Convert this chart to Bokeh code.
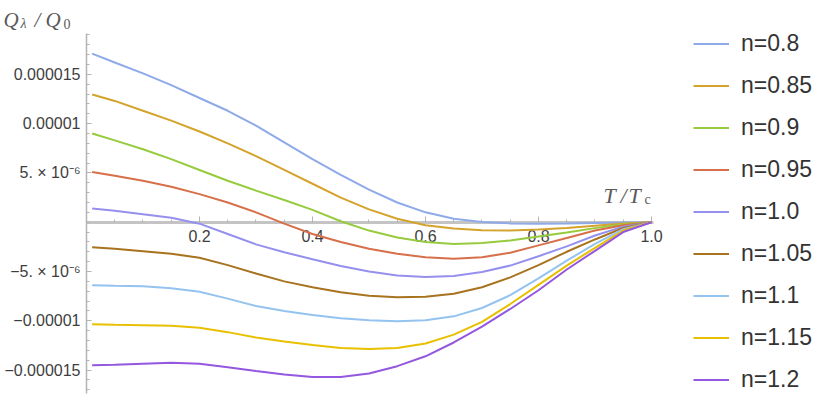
from bokeh.plotting import figure
from bokeh.models import Range1d, LinearAxis, FixedTicker, Legend, LegendItem, Label
from bokeh.embed import file_html
from bokeh.resources import INLINE

# T / T_c sample points
T = [0.01, 0.05, 0.10, 0.15, 0.20, 0.25, 0.30, 0.35, 0.40, 0.45, 0.50,
     0.55, 0.60, 0.65, 0.70, 0.75, 0.80, 0.85, 0.90, 0.95, 1.00]

# Q_lambda / Q_0 in units of 1e-6
q_n080 = [17.1, 16.2, 15.1, 13.9, 12.6, 11.3, 9.8, 8.1, 6.4, 4.8, 3.3,
          2.0, 1.0, 0.35, 0.02, -0.12, -0.15, -0.12, -0.07, -0.02, 0.0]
q_n085 = [12.95, 12.3, 11.3, 10.3, 9.2, 8.0, 6.7, 5.3, 3.9, 2.5, 1.3,
          0.35, -0.3, -0.65, -0.82, -0.85, -0.75, -0.58, -0.35, -0.12, 0.0]
q_n090 = [9.0, 8.3, 7.4, 6.4, 5.3, 4.2, 3.2, 2.25, 1.25, 0.1, -0.85,
          -1.55, -2.0, -2.2, -2.1, -1.85, -1.45, -1.05, -0.6, -0.22, 0.0]
q_n095 = [5.1, 4.7, 4.2, 3.6, 2.85, 2.0, 1.0, -0.15, -1.2, -2.0, -2.7,
          -3.2, -3.55, -3.7, -3.55, -3.1, -2.35, -1.6, -0.85, -0.3, 0.0]
q_n100 = [1.4, 1.15, 0.8, 0.45, -0.15, -1.2, -2.25, -3.05, -3.75, -4.45, -5.0,
          -5.4, -5.55, -5.45, -5.05, -4.4, -3.45, -2.45, -1.35, -0.45, 0.0]
q_n105 = [-2.55, -2.7, -2.95, -3.2, -3.6, -4.35, -5.2, -6.0, -6.6, -7.1, -7.45,
          -7.6, -7.55, -7.25, -6.6, -5.6, -4.35, -3.0, -1.75, -0.58, 0.0]
q_n110 = [-6.4, -6.45, -6.5, -6.7, -7.05, -7.75, -8.5, -9.0, -9.4, -9.75, -9.95,
          -10.05, -9.95, -9.55, -8.7, -7.4, -5.7, -3.9, -2.2, -0.7, 0.0]
q_n115 = [-10.35, -10.4, -10.45, -10.5, -10.7, -11.15, -11.7, -12.1, -12.45, -12.75, -12.85,
          -12.75, -12.3, -11.4, -10.1, -8.3, -6.35, -4.4, -2.6, -0.85, 0.0]
q_n120 = [-14.5, -14.45, -14.35, -14.25, -14.35, -14.7, -15.1, -15.45, -15.7, -15.7, -15.35,
          -14.6, -13.6, -12.2, -10.6, -8.8, -6.9, -4.8, -2.9, -1.0, 0.0]

series = [q_n080, q_n085, q_n090, q_n095, q_n100, q_n105, q_n110, q_n115, q_n120]
names = ["n=0.8", "n=0.85", "n=0.9", "n=0.95", "n=1.0",
         "n=1.05", "n=1.1", "n=1.15", "n=1.2"]
colors = ["#8eaae8", "#d4a32c", "#96cb3e", "#d7704a", "#9590ee",
          "#a8731f", "#94c3f0", "#e8c000", "#9457df"]

x_ticks = [0.2, 0.4, 0.6, 0.8, 1.0]
x_tick_labels = ["0.2", "0.4", "0.6", "0.8", "1.0"]
x_minor = [0.05, 0.10, 0.15, 0.25, 0.30, 0.35, 0.45, 0.50, 0.55,
           0.65, 0.70, 0.75, 0.85, 0.90, 0.95]
y_ticks = [-15, -10, -5, 5, 10, 15]
y_tick_labels = ["\u22120.000015", "\u22120.00001", "\u22125. \u00d7 10\u207b\u2076",
                 "5. \u00d7 10\u207b\u2076", "0.00001", "0.000015"]
y_minor = [v for v in range(-17, 20)]
x_bounds = (0.0, 1.0035)
y_bounds = (-17.37, 19.14)

AXIS = "#b4b4b4"
TICKTXT = "#3e3e3e"
LABTXT = "#5a5a5a"

W, H = 818, 400
p = figure(width=W, height=H, min_border=0,
           x_range=Range1d(-0.15221, 1.29558), y_range=Range1d(-18.083, 22.485),
           x_axis_location=None, y_axis_location=None,
           output_backend="svg", toolbar_location=None)
p.grid.visible = False
p.outline_line_color = None
p.background_fill_color = "white"
p.border_fill_color = "white"

ya = LinearAxis(fixed_location=0, bounds=y_bounds,
                ticker=FixedTicker(ticks=y_ticks, minor_ticks=y_minor),
                major_label_overrides={t: s for t, s in zip(y_ticks, y_tick_labels)})
ya.axis_line_color = AXIS
ya.axis_line_width = 1.5
ya.major_tick_line_color = AXIS
ya.minor_tick_line_color = AXIS
ya.major_tick_in = 5
ya.major_tick_out = 0
ya.minor_tick_in = 3
ya.minor_tick_out = 0
ya.major_label_standoff = 6
ya.major_label_text_font = "Liberation Sans"
ya.major_label_text_font_size = "16px"
ya.major_label_text_color = TICKTXT
ya.level = "underlay"
p.add_layout(ya, "left")

xa = LinearAxis(fixed_location=0, bounds=x_bounds,
                ticker=FixedTicker(ticks=x_ticks, minor_ticks=x_minor),
                major_label_overrides={t: s for t, s in zip(x_ticks, x_tick_labels)})
xa.axis_line_color = "#c4c4c4"
xa.axis_line_width = 3
xa.major_tick_line_color = AXIS
xa.minor_tick_line_color = AXIS
xa.major_tick_in = 6
xa.major_tick_out = 0
xa.minor_tick_in = 3
xa.minor_tick_out = 0
xa.major_label_standoff = 8
xa.major_label_text_font = "Liberation Sans"
xa.major_label_text_font_size = "16px"
xa.major_label_text_color = TICKTXT
xa.level = "underlay"
p.add_layout(xa, "below")

items = []
for vals, name, col in zip(series, names, colors):
    r = p.line(T, vals, line_color=col, line_width=2)
    items.append(LegendItem(label=name, renderers=[r]))

legend = Legend(items=items, location=(693, 7), orientation="vertical",
                border_line_color=None, background_fill_alpha=0,
                padding=0, margin=0, spacing=15,
                glyph_width=36, glyph_height=27, label_height=27,
                label_standoff=12, label_text_font="Liberation Sans",
                label_text_font_size="23px", label_text_color="#333333")
p.add_layout(legend)


def px_to_data(rx, ry):
    return (rx - 86) / 565.0, (221.7 - ry) / 9.86


def add_label(text, rx, ry, size, style="italic", font="Liberation Serif"):
    x, y = px_to_data(rx, ry)
    p.add_layout(Label(x=x, y=y, text=text, text_font=font,
                       text_font_size=size, text_font_style=style,
                       text_color=LABTXT, text_baseline="alphabetic",
                       text_align="left"))


# y-axis label: Q_lambda / Q_0
add_label("Q", 3, 19, "21px")
add_label("\u03bb", 20, 23, "14px")
add_label("/", 34, 19, "21px")
add_label("Q", 45, 19, "21px")
add_label("0", 63, 23, "14px", style="normal")
# x-axis label: T / T_c
add_label("T", 603, 195, "22px")
add_label("/", 620, 195, "22px")
add_label("T", 628, 195, "22px")
add_label("c", 644, 199, "14px", style="normal")

open("out.html", "w").write(file_html(p, INLINE))
